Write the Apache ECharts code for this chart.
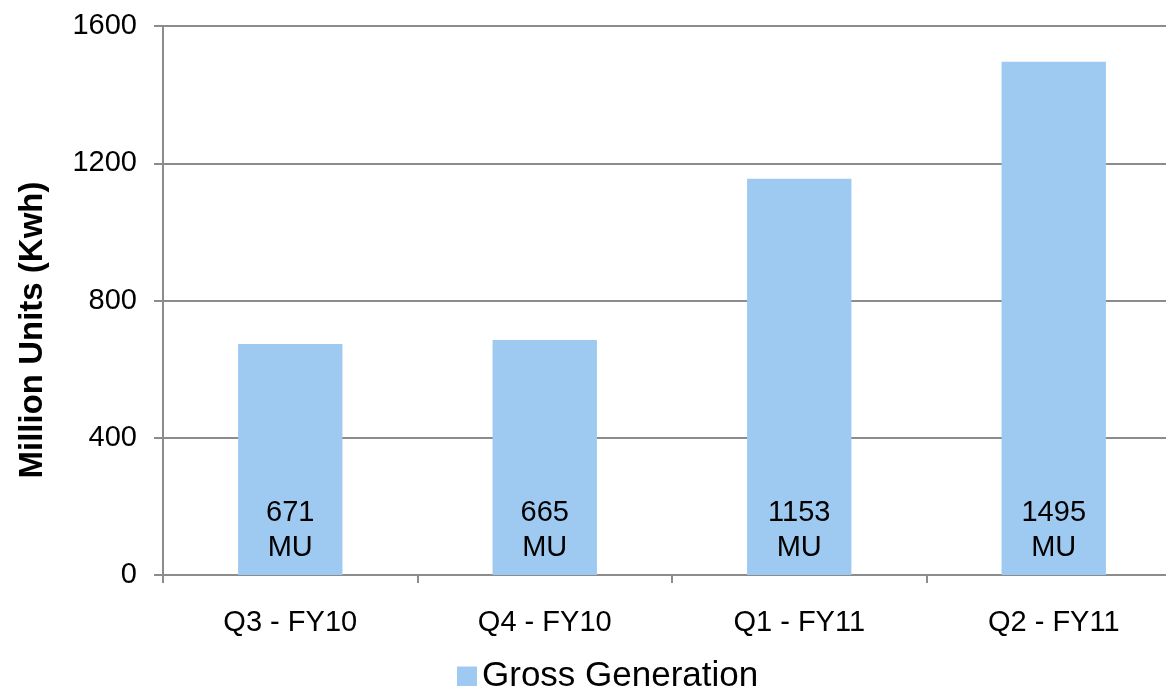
<!DOCTYPE html>
<html><head><meta charset="utf-8">
<script src="https://cdn.jsdelivr.net/npm/echarts@6/dist/echarts.min.js"></script>
<style>html,body{margin:0;padding:0;background:#fff;overflow:hidden}#c{width:1182px;height:686px}</style>
</head><body><div id="c"></div>
<script>
const categories = ['Q3 - FY10', 'Q4 - FY10', 'Q1 - FY11', 'Q2 - FY11'];
const grossGeneration = [673, 685, 1155, 1496];
const barLabels = ['671', '665', '1153', '1495'];
const yTicks = [0, 400, 800, 1200, 1600];
const seriesName = 'Gross Generation';
const yTitle = 'Million Units (Kwh)';

const chart = echarts.init(document.getElementById('c'));
const font = 'Liberation Sans, Arial, sans-serif';
chart.setOption({
  animation: false,
  grid: { left: 163, top: 26, right: 1, bottom: 111, containLabel: false },
  legend: {
    data: [seriesName], top: 654, left: 452, itemWidth: 20, itemHeight: 20, itemGap: 5,
    textStyle: { fontFamily: font, fontSize: 35, color: '#000' }, icon: 'rect'
  },
  graphic: [{
    type: 'text', x: 33, y: 330, rotation: Math.PI / 2,
    style: { text: yTitle, fontFamily: font, fontSize: 33, fontWeight: 'bold', fill: '#000', align: 'center', verticalAlign: 'middle' }
  }],
  xAxis: {
    type: 'category', data: categories,
    axisLine: { lineStyle: { color: '#8c8c8c', width: 2 } },
    axisTick: { show: true, length: 8, lineStyle: { color: '#8c8c8c', width: 2 } },
    axisLabel: { fontFamily: font, fontSize: 29, color: '#000', margin: 33 }
  },
  yAxis: {
    type: 'value', min: yTicks[0], max: yTicks[yTicks.length - 1], interval: 400,
    axisLine: { show: true, lineStyle: { color: '#8c8c8c', width: 2 } },
    axisTick: { show: true, length: 9, lineStyle: { color: '#8c8c8c', width: 2 } },
    axisLabel: { fontFamily: font, fontSize: 29, color: '#000', margin: 26, formatter: v => String(v) },
    splitLine: { lineStyle: { color: '#8c8c8c', width: 2 } }
  },
  series: [{
    name: seriesName, type: 'bar', data: grossGeneration, barWidth: '41%',
    itemStyle: { color: '#9ECAF2' },
    label: {
      show: true, position: 'insideBottom', distance: 10,
      fontFamily: font, fontSize: 29, color: '#000', lineHeight: 35, align: 'center',
      formatter: p => barLabels[p.dataIndex] + '\nMU'
    }
  }]
});
</script></body></html>
